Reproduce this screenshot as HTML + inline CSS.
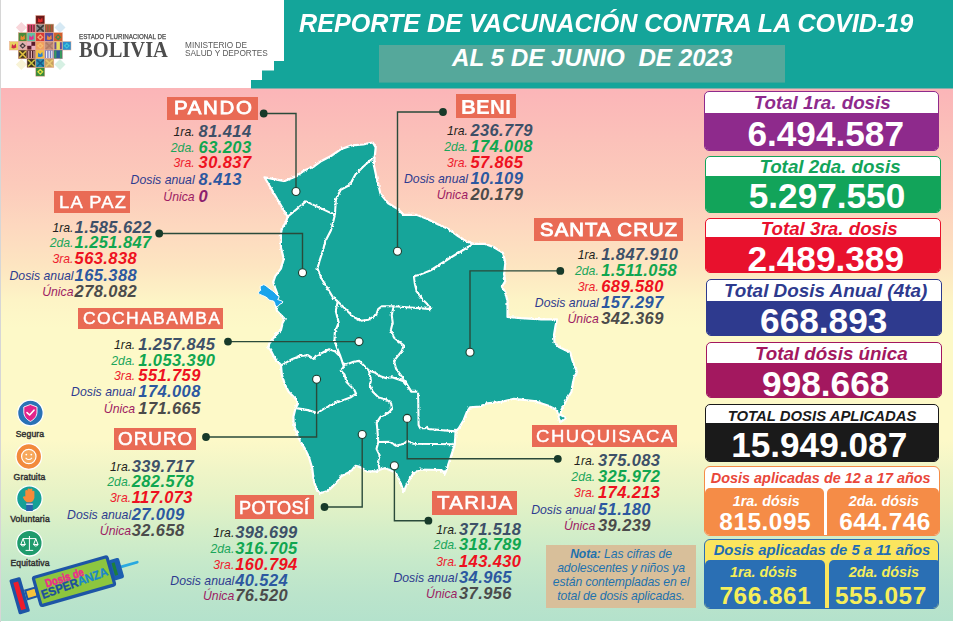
<!DOCTYPE html>
<html><head><meta charset="utf-8"><title>Reporte de vacunación COVID-19</title>
<style>
*{margin:0;padding:0;box-sizing:border-box}
html,body{width:953px;height:622px;overflow:hidden;background:#fff}
body{position:relative;font-family:"Liberation Sans",Arial,sans-serif}
#bg{position:absolute;left:1px;top:88px;width:952px;height:533px;
background:linear-gradient(180deg,#fbb5b8 0%,#fbc0b9 9%,#fccbbb 18.4%,#fdd8bf 26%,#fde5c1 33.4%,#fdf4c6 39.8%,#fdf9c8 45%,#fdf9c8 66%,#f0f5c7 71.7%,#e4f2c6 77.3%,#d4eec8 83%,#c6e9ca 89%,#bbe4cb 95%,#b4e2cc 100%)}
#lb{position:absolute;left:0;top:0;width:1px;height:622px;background:#d6d6d6}
.lbl{position:absolute;background:#e96b55}
.lt{position:absolute;color:#fff;line-height:1;white-space:nowrap;-webkit-text-stroke:0.4px #fff;transform-origin:0 0}
.row{position:absolute;width:420px;height:18px;white-space:nowrap;font-style:italic}
.lab{position:absolute;top:2px;font-size:12.25px;line-height:16px}
.val{position:absolute;left:199px;top:0;font-weight:bold;font-size:16.5px;line-height:18px;letter-spacing:0.4px}
.l1{color:#231f20}.l2{color:#1ba65b}.l3{color:#ee1c2e}.l4{color:#2e3b8f}.l5{color:#9d1c63}
.v1{color:#3d5068}.v2{color:#10a650}.v3{color:#ee1120}.v4{color:#2c58a0}.v5{color:#4b4b4b}
.sbox{position:absolute;border:1.5px solid;border-radius:5px;overflow:hidden;background:#fff}
.st{position:absolute;width:300px;text-align:center;font-weight:bold;font-style:italic;line-height:1;white-space:nowrap}
.sv{position:absolute;left:0;right:0;bottom:0}
.sn{position:absolute;width:300px;text-align:center;color:#fff;font-weight:bold;font-size:35.2px;line-height:1;white-space:nowrap}

.abox{position:absolute;border:1.5px solid;border-radius:6px;overflow:hidden}
.ax{position:absolute;width:300px;text-align:center;line-height:1;white-space:nowrap;font-weight:bold}
.it{font-style:italic}
.nb{letter-spacing:0.5px}
.nota{position:absolute;left:545.8px;top:544.7px;width:150.5px;height:63.3px;background:#d8bf9a;color:#1f72ad;font-style:italic;font-size:12.2px;line-height:13.9px;text-align:center;padding-top:3.6px;white-space:nowrap;letter-spacing:-0.1px}
.ic{position:absolute;border-radius:50%;border:1.5px solid #fff}
.il{position:absolute;font-size:8.6px;color:#333;white-space:nowrap;text-align:center;width:60px;letter-spacing:0.15px;-webkit-text-stroke:0.45px #333}
</style></head><body>
<div id="lb"></div>
<div id="bg"></div>
<svg style="position:absolute;left:0;top:0" width="953" height="90" viewBox="0 0 953 90">
<polygon points="284,0 953,0 953,88.5 251,88.5 251,80 262,80 262,70.5 274,70.5 274,61 284,61" fill="#14a59a"/>
<rect x="379" y="45" width="406" height="37.6" fill="#55a89b"/>
<rect x="17.5" y="23.5" width="7.8" height="7.8" fill="#f8d6da" transform="rotate(45 21.4 27.4)"/>
<rect x="56.1" y="23.5" width="7.8" height="7.8" fill="#d6e9f4" transform="rotate(45 60 27.4)"/>
<rect x="17.5" y="60.5" width="7.8" height="7.8" fill="#f8f3d6" transform="rotate(45 21.4 64.4)"/>
<rect x="56.1" y="60.5" width="7.8" height="7.8" fill="#d6f0e3" transform="rotate(45 60 64.4)"/>
<rect x="35.8" y="15.5" width="9.00" height="8.60" fill="#6a1a1a" stroke="#eaa890" stroke-width="0.5"/>
<path d="M37.80 22.10 L38.30 18.00 L40.30 19.80 L42.30 17.50 L42.80 21.60 L40.30 22.60Z" fill="#e42a2a"/>
<rect x="27" y="24.1" width="8.80" height="8.60" fill="#e0407a" stroke="#eaa890" stroke-width="0.5"/>
<rect x="28.20" y="24.90" width="1.2" height="7.00" fill="#6a3a2a"/>
<rect x="30.80" y="24.90" width="1.2" height="7.00" fill="#6a3a2a"/>
<rect x="33.40" y="24.90" width="1.2" height="7.00" fill="#6a3a2a"/>
<rect x="35.8" y="24.1" width="9.00" height="8.60" fill="#8a8a8a" stroke="#eaa890" stroke-width="0.5"/>
<path d="M36.80 25.10 L43.80 31.70 M43.80 25.10 L36.80 31.70" stroke="#3a3a3a" stroke-width="1.6"/>
<rect x="44.8" y="24.1" width="9.00" height="8.60" fill="#7a6a3a" stroke="#eaa890" stroke-width="0.5"/>
<rect x="46.00" y="24.90" width="1.2" height="7.00" fill="#c84a3a"/>
<rect x="48.60" y="24.90" width="1.2" height="7.00" fill="#c84a3a"/>
<rect x="51.20" y="24.90" width="1.2" height="7.00" fill="#c84a3a"/>
<rect x="18.3" y="32.7" width="8.70" height="8.90" fill="#4a8a3a" stroke="#eaa890" stroke-width="0.5"/>
<path d="M20.30 39.60 L20.80 35.20 L22.65 37.15 L24.50 34.70 L25.00 39.10 L22.65 40.10Z" fill="#f08a30"/>
<rect x="27" y="32.7" width="8.80" height="8.90" fill="#60c0a0" stroke="#eaa890" stroke-width="0.5"/>
<path d="M29.00 39.60 L29.50 35.20 L31.40 37.15 L33.30 34.70 L33.80 39.10 L31.40 40.10Z" fill="#e03090"/>
<rect x="35.8" y="32.7" width="9.00" height="8.90" fill="#d83a34" stroke="#eaa890" stroke-width="0.5"/>
<path d="M40.30 33.90 L43.60 37.15 L40.30 40.40 L37.00 37.15Z" fill="#f0a878"/>
<rect x="39.30" y="36.15" width="2" height="2" fill="#d83a34"/>
<rect x="44.8" y="32.7" width="9.00" height="8.90" fill="#5a4a9a" stroke="#eaa890" stroke-width="0.5"/>
<path d="M46.80 39.60 L47.30 35.20 L49.30 37.15 L51.30 34.70 L51.80 39.10 L49.30 40.10Z" fill="#e88a40"/>
<rect x="53.8" y="32.7" width="8.70" height="8.90" fill="#d0602e" stroke="#eaa890" stroke-width="0.5"/>
<path d="M58.15 33.90 L61.30 37.15 L58.15 40.40 L55.00 37.15Z" fill="#3a8a4a"/>
<rect x="57.15" y="36.15" width="2" height="2" fill="#d0602e"/>
<rect x="9.5" y="41.6" width="8.80" height="8.40" fill="#e8d060" stroke="#eaa890" stroke-width="0.5"/>
<path d="M11.50 48.00 L12.00 44.10 L13.90 45.80 L15.80 43.60 L16.30 47.50 L13.90 48.50Z" fill="#d02a48"/>
<rect x="18.3" y="41.6" width="8.70" height="8.40" fill="#e0b0b0" stroke="#eaa890" stroke-width="0.5"/>
<path d="M22.65 42.80 L25.80 45.80 L22.65 48.80 L19.50 45.80Z" fill="#403838"/>
<rect x="21.65" y="44.80" width="2" height="2" fill="#e0b0b0"/>
<rect x="27" y="41.6" width="8.80" height="8.40" fill="#5a1a2a" stroke="#eaa890" stroke-width="0.5"/>
<rect x="27.00" y="41.60" width="4.40" height="4.20" fill="#e8b0c0"/><rect x="31.40" y="45.80" width="4.40" height="4.20" fill="#e8b0c0"/>
<rect x="35.8" y="41.6" width="9.00" height="8.40" fill="#f0a060" stroke="#eaa890" stroke-width="0.5"/>
<path d="M40.30 42.80 L43.60 45.80 L40.30 48.80 L37.00 45.80Z" fill="#f6c070"/>
<rect x="39.30" y="44.80" width="2" height="2" fill="#f0a060"/>
<rect x="44.8" y="41.6" width="9.00" height="8.40" fill="#c09078" stroke="#eaa890" stroke-width="0.5"/>
<path d="M45.80 42.60 L52.80 49.00 M52.80 42.60 L45.80 49.00" stroke="#b07a68" stroke-width="1.6"/>
<rect x="53.8" y="41.6" width="8.70" height="8.40" fill="#e8e060" stroke="#eaa890" stroke-width="0.5"/>
<rect x="54.40" y="42.20" width="2" height="7.20" fill="#6a4a9a"/>
<rect x="59.90" y="42.20" width="2" height="7.20" fill="#6a4a9a"/>
<rect x="62.5" y="41.6" width="8.50" height="8.40" fill="#2a90d0" stroke="#eaa890" stroke-width="0.5"/>
<path d="M66.75 42.80 L69.80 45.80 L66.75 48.80 L63.70 45.80Z" fill="#40c8d8"/>
<rect x="65.75" y="44.80" width="2" height="2" fill="#2a90d0"/>
<rect x="18.3" y="50" width="8.70" height="8.80" fill="#4a3a20" stroke="#eaa890" stroke-width="0.5"/>
<path d="M19.30 51.00 L26.00 57.80 M26.00 51.00 L19.30 57.80" stroke="#e0c040" stroke-width="1.6"/>
<rect x="27" y="50" width="8.80" height="8.80" fill="#4a2028" stroke="#eaa890" stroke-width="0.5"/>
<rect x="28.20" y="50.80" width="1.2" height="7.20" fill="#e0b0b0"/>
<rect x="30.80" y="50.80" width="1.2" height="7.20" fill="#e0b0b0"/>
<rect x="33.40" y="50.80" width="1.2" height="7.20" fill="#e0b0b0"/>
<rect x="35.8" y="50" width="9.00" height="8.80" fill="#f0c040" stroke="#eaa890" stroke-width="0.5"/>
<path d="M37.80 56.80 L38.30 52.50 L40.30 54.40 L42.30 52.00 L42.80 56.30 L40.30 57.30Z" fill="#2a80d0"/>
<rect x="44.8" y="50" width="9.00" height="8.80" fill="#7a80c0" stroke="#eaa890" stroke-width="0.5"/>
<rect x="46.00" y="50.80" width="1.2" height="7.20" fill="#f0f0f0"/>
<rect x="48.60" y="50.80" width="1.2" height="7.20" fill="#f0f0f0"/>
<rect x="51.20" y="50.80" width="1.2" height="7.20" fill="#f0f0f0"/>
<rect x="53.8" y="50" width="8.70" height="8.80" fill="#2a5a9a" stroke="#eaa890" stroke-width="0.5"/>
<rect x="54.40" y="50.60" width="2" height="7.60" fill="#3a9a5a"/>
<rect x="59.90" y="50.60" width="2" height="7.60" fill="#3a9a5a"/>
<rect x="27" y="58.8" width="8.80" height="8.70" fill="#3a3020" stroke="#eaa890" stroke-width="0.5"/>
<path d="M28.00 59.80 L34.80 66.50 M34.80 59.80 L28.00 66.50" stroke="#c8c040" stroke-width="1.6"/>
<rect x="35.8" y="58.8" width="9.00" height="8.70" fill="#2a90b0" stroke="#eaa890" stroke-width="0.5"/>
<path d="M36.80 59.80 L43.80 66.50 M43.80 59.80 L36.80 66.50" stroke="#1a5a8a" stroke-width="1.6"/>
<rect x="44.8" y="58.8" width="9.00" height="8.70" fill="#c8a060" stroke="#eaa890" stroke-width="0.5"/>
<path d="M45.80 59.80 L52.80 66.50 M52.80 59.80 L45.80 66.50" stroke="#e8c870" stroke-width="1.6"/>
<rect x="35.8" y="67.5" width="9.00" height="8.70" fill="#3a8a3a" stroke="#eaa890" stroke-width="0.5"/>
<path d="M40.30 68.70 L43.60 71.85 L40.30 75.00 L37.00 71.85Z" fill="#e0e040"/>
<rect x="39.30" y="70.85" width="2" height="2" fill="#3a8a3a"/>
</svg>
<div style="position:absolute;left:78.8px;top:34.3px;font-size:6.7px;line-height:1;color:#4a4a4a;white-space:nowrap;-webkit-text-stroke:0.25px #4a4a4a;transform:scaleX(0.93);transform-origin:0 0">ESTADO PLURINACIONAL DE</div>
<div style="position:absolute;left:78.5px;top:38.8px;font-family:'Liberation Serif',serif;font-weight:bold;font-size:22.8px;line-height:1;color:#4d4d4d;white-space:nowrap;transform:scaleX(0.9);transform-origin:0 0">BOLIVIA</div>
<div style="position:absolute;left:184.5px;top:40.7px;font-size:9.2px;line-height:8.8px;color:#5a5a5a;white-space:nowrap;transform:scaleX(0.9);transform-origin:0 0">MINISTERIO DE<br>SALUD Y DEPORTES</div>
<div style="position:absolute;left:299px;top:8.4px;font-size:26px;font-weight:bold;font-style:italic;color:#fff;white-space:nowrap;transform:scaleX(0.9665);transform-origin:0 0">REPORTE DE VACUNACIÓN CONTRA LA COVID-19</div>
<div style="position:absolute;left:452px;top:43.5px;font-size:24.2px;font-weight:bold;font-style:italic;color:#fff;white-space:pre">AL 5 DE JUNIO  DE 2023</div>

<svg style="position:absolute;left:0;top:0" width="953" height="622" viewBox="0 0 953 622">
<defs><filter id="rough" x="-5%" y="-5%" width="110%" height="110%"><feTurbulence type="fractalNoise" baseFrequency="0.35" numOctaves="2" seed="3"/><feDisplacementMap in="SourceGraphic" scale="2.8" xChannelSelector="R" yChannelSelector="G"/></filter></defs>
<g filter="url(#rough)">
<polygon points="264.5,177.3 284.7,181.1 296.3,176.3 304,170.5 313.7,166.7 321.4,160.9 331,156 340.7,149.3 351.6,145.4 363.2,144.5 372.8,142.5 375.7,147.4 374.7,157 373.8,164.7 376.7,178.2 380.5,193.7 388.2,203.3 397.9,209.1 403.7,214.9 417.2,214.9 426.8,218.8 438.4,224.5 449,229.3 458,236 467,241.6 473.8,243.9 485,243.9 494,247.3 503,252.9 505.3,263 504.1,274.3 505.3,281 501.9,286.7 505.3,292.3 507.5,301.3 507.5,317 521,318.2 541.3,319.3 557,319.3 555.5,326 554,335 554.5,342.5 559,347 570.3,352.6 572.5,360.5 577,371.8 573.7,378.5 571.4,392 565.8,401 561.3,410 560.2,414.5 565.8,417.9 560.2,422.4 556.8,410 547.8,405.5 534.3,401 514,398.8 500.5,402 487,403.3 480,406.5 470,407.3 466.8,412.2 463.6,420.2 458.8,428.2 455.6,431.4 454.8,444.3 452.3,452.3 449.1,462 445.9,471.6 444.3,474.9 443.5,471.6 441.1,470 420.2,469.5 413.4,473.1 408.6,481.1 405.4,487.5 403.8,492.3 402.2,487.5 399,479.5 395.8,473.1 389.3,469.8 384.5,468.2 379.7,469.8 376.5,471.4 366.8,471.4 362,468.2 358.8,466.6 355.6,465.8 352.3,469.8 347.5,473.1 341.1,476.3 337.9,481.1 333.1,485.9 328.2,490.7 320.2,493.2 317,490.7 313.8,481.1 312.2,468.2 308.9,457 304.5,448 302,444 298.5,438 296,431 293.7,424 293.4,416.8 295.3,409.1 298.2,403.3 296.3,399.5 288.6,391.7 284.7,384 281.8,374.4 280.9,364.7 275.1,358.9 271.2,351.2 268.3,347.4 269.3,343.5 275.1,335.8 280.9,330.3 282.8,322.6 284.7,318.8 277,311 275.1,303.3 278,295.6 275.1,287.9 273.2,282.1 275.1,276.3 280.9,268.6 283.8,258.9 280.9,247.4 280.9,234.2 281.8,228.4 285.7,222.6 287.6,216.8" fill="#15a59a" stroke="#fff" stroke-width="2.2" stroke-linejoin="round"/>
<polyline points="373.8,157 363.2,166.7 355.4,174.4 350.3,184 347.7,186 340.7,189.8 335.9,199.5 334.9,214.9" fill="none" stroke="#fff" stroke-width="2.1" stroke-linejoin="round"/><polyline points="287.6,216.8 306,201.4 334.9,214.9" fill="none" stroke="#fff" stroke-width="2.1" stroke-linejoin="round"/><polyline points="334.9,214.9 331,230.3 325.2,241.6 323.3,249.3 319.5,260.9 317.5,268.6 321.4,278.2 327.2,287.9 333,297.5 337.7,301.4" fill="none" stroke="#fff" stroke-width="2.1" stroke-linejoin="round"/><polyline points="337.7,301.4 345.4,309.1 353.2,316.8 360.9,320.7 368.6,319.7 376.3,314.9 378.2,309.1 382.1,306.2 393.7,306.2 407.2,307.2 431.3,309.1" fill="none" stroke="#fff" stroke-width="2.1" stroke-linejoin="round"/><polyline points="431.3,309.1 426.5,303.3 422.6,299.5 416.8,291.7 414.9,284 413.9,276.3 420.7,274.4 430.3,270.5 450,258 471.5,245" fill="none" stroke="#fff" stroke-width="2.1" stroke-linejoin="round"/><polyline points="337.7,301.4 335.8,311 338.7,322.6 334.8,332.3 334.5,340 336.8,347.4 340.7,357" fill="none" stroke="#fff" stroke-width="2.1" stroke-linejoin="round"/><polyline points="280.9,365.7 292.4,358.9 300.2,356 307.9,355.1 313.7,358.9 315.6,356 321.4,353.2 329.1,349.3 334.9,351.2 340.7,357" fill="none" stroke="#fff" stroke-width="2.1" stroke-linejoin="round"/><polyline points="340.7,357 342.6,362.8 345.8,364.7 353.5,361.8 359.3,360.9 365.1,366.7 368.9,370.5 374.7,372.4 380.5,376.3 386.3,378.2 392.1,377.3 397.9,379.2 405.6,382.1 411.4,391.7 418.1,391.7" fill="none" stroke="#fff" stroke-width="2.1" stroke-linejoin="round"/><polyline points="393.7,306.2 391.7,314.9 392.7,322.6 390.8,330.3 394,337.7 403.7,345.4 401.7,351.2 394,360.9 396,368.6 401.7,376.3 405.6,384 411.4,391.7" fill="none" stroke="#fff" stroke-width="2.1" stroke-linejoin="round"/><polyline points="418.1,391.7 418.6,425 420.2,428.2 425,428.2 426.6,426.6 428.2,429 455.6,431.4" fill="none" stroke="#fff" stroke-width="2.1" stroke-linejoin="round"/><polyline points="342.6,362.8 343.9,366.7 340.7,370.5 344.5,374.4 346.5,382.1 354.2,389.8 356.1,393.7 350.3,397.5 334.9,403.3 323.3,409.1 317.5,413 307.9,410.1 296.3,408.1" fill="none" stroke="#fff" stroke-width="2.1" stroke-linejoin="round"/><polyline points="368.9,370.5 370.9,380.2 369.9,386 372.8,391.7 378.6,397.5 386.3,399.5 391.1,403.3 392.1,409.1 388.2,413 380.5,416.8 376.7,422.6 377.6,432.3 378.3,442 376.5,448.9 379.7,455.4 378.1,461.8 379.7,469.8" fill="none" stroke="#fff" stroke-width="2.1" stroke-linejoin="round"/><polyline points="378.3,442 390.2,441.9 396,445.8 403.7,443.8 407.5,440.9 413.3,443.8 454.8,444.3" fill="none" stroke="#fff" stroke-width="2.1" stroke-linejoin="round"/>
</g>
<polygon points="260.2,286.2 263.8,284.6 265.9,285.7 269,288.2 272.6,290.8 275.1,292.9 276.7,294.9 279.2,296.5 278.7,298 277.7,299.5 280.8,300.6 282.8,301.6 282.3,303.1 279.8,304.2 278.2,306.2 276.2,306.7 275.1,304.7 274.6,302.6 273.6,301.1 271.5,300.6 269,300.1 267.9,298.5 265.9,297 262.3,295.4 259.7,294.4 258.2,292.9 259.2,291.3 260.7,290.3 260.2,288.2" fill="#19a4ec" stroke="#fff" stroke-width="1" stroke-linejoin="round"/>
<polyline points="263.7,113.5 296,113.5 296,191.5" fill="none" stroke="#2a4a3a" stroke-width="1.4"/><polyline points="159.2,233.5 302.5,233.5 302.5,272.8" fill="none" stroke="#2a4a3a" stroke-width="1.4"/><polyline points="443,112 397.5,112 397.5,251.2" fill="none" stroke="#2a4a3a" stroke-width="1.4"/><polyline points="560.3,270.9 470,270.9 470,352.2" fill="none" stroke="#2a4a3a" stroke-width="1.4"/><polyline points="228,341.6 359,341.6" fill="none" stroke="#2a4a3a" stroke-width="1.4"/><polyline points="206,437 316.6,437 316.6,379.2" fill="none" stroke="#2a4a3a" stroke-width="1.4"/><polyline points="324.5,507 362.2,507 362.2,434.5" fill="none" stroke="#2a4a3a" stroke-width="1.4"/><polyline points="557.8,458.8 407.2,458.8 407.2,418.4" fill="none" stroke="#2a4a3a" stroke-width="1.4"/><polyline points="428.4,520.7 394.4,520.7 394.4,465.7" fill="none" stroke="#2a4a3a" stroke-width="1.4"/>
<circle cx="263.7" cy="113.5" r="3.9" fill="#173a2a"/><circle cx="159.2" cy="233.5" r="3.9" fill="#173a2a"/><circle cx="443" cy="112" r="3.9" fill="#173a2a"/><circle cx="560.3" cy="270.9" r="3.9" fill="#173a2a"/><circle cx="228" cy="341.6" r="3.9" fill="#173a2a"/><circle cx="206" cy="437" r="3.9" fill="#173a2a"/><circle cx="324.5" cy="507" r="3.9" fill="#173a2a"/><circle cx="557.8" cy="458.8" r="3.9" fill="#173a2a"/><circle cx="428.4" cy="520.7" r="3.9" fill="#173a2a"/>
<circle cx="296" cy="191.5" r="4" fill="#fff" stroke="#1c3c2e" stroke-width="1.1"/><circle cx="302.5" cy="272.8" r="4" fill="#fff" stroke="#1c3c2e" stroke-width="1.1"/><circle cx="397.5" cy="251.2" r="4" fill="#fff" stroke="#1c3c2e" stroke-width="1.1"/><circle cx="470" cy="352.2" r="4" fill="#fff" stroke="#1c3c2e" stroke-width="1.1"/><circle cx="359" cy="341.6" r="4" fill="#fff" stroke="#1c3c2e" stroke-width="1.1"/><circle cx="316.6" cy="379.2" r="4" fill="#fff" stroke="#1c3c2e" stroke-width="1.1"/><circle cx="362.2" cy="434.5" r="4" fill="#fff" stroke="#1c3c2e" stroke-width="1.1"/><circle cx="407.2" cy="418.4" r="4" fill="#fff" stroke="#1c3c2e" stroke-width="1.1"/><circle cx="394.4" cy="465.7" r="4" fill="#fff" stroke="#1c3c2e" stroke-width="1.1"/>
</svg>
<div class="lbl" style="left:166.9px;top:96.9px;width:91.1px;height:22.8px"></div>
<div class="lt" style="left:173.64px;top:99.48px;font-size:18.58px;letter-spacing:1.51px;-webkit-text-stroke:0.8px #fff;transform:scaleX(1.102)">PANDO</div>
<div class="row" style="top:121.7px;left:-0.4px"><span class="lab l1" style="right:225.0px">1ra.</span><span class="val v1">81.414</span></div>
<div class="row" style="top:137.5px;left:-0.4px"><span class="lab l2" style="right:225.0px">2da.</span><span class="val v2">63.203</span></div>
<div class="row" style="top:153.3px;left:-0.4px"><span class="lab l3" style="right:225.0px">3ra.</span><span class="val v3">30.837</span></div>
<div class="row" style="top:169.9px;left:-0.4px"><span class="lab l4" style="right:225.0px">Dosis anual</span><span class="val v4">8.413</span></div>
<div class="row" style="top:186.7px;left:-0.4px"><span class="lab l5" style="right:225.0px">Única</span><span class="val v5" style="color:#8b1f6e">0</span></div><div class="lbl" style="left:53.6px;top:191.3px;width:76.1px;height:21.4px"></div>
<div class="lt" style="left:58.72px;top:193.85px;font-size:16.48px;letter-spacing:1.11px;-webkit-text-stroke:0.4px #fff;transform:scaleX(1.112)">LA PAZ</div>
<div class="row" style="top:218.1px;left:-124.4px"><span class="lab l1" style="right:222.1px">1ra.</span><span class="val v1">1.585.622</span></div>
<div class="row" style="top:233.4px;left:-124.4px"><span class="lab l2" style="right:222.1px">2da.</span><span class="val v2">1.251.847</span></div>
<div class="row" style="top:249.4px;left:-124.4px"><span class="lab l3" style="right:222.1px">3ra.</span><span class="val v3">563.838</span></div>
<div class="row" style="top:265.6px;left:-124.4px"><span class="lab l4" style="right:222.1px">Dosis anual</span><span class="val v4">165.388</span></div>
<div class="row" style="top:281.5px;left:-124.4px"><span class="lab l5" style="right:222.1px">Única</span><span class="val v5">278.082</span></div><div class="lbl" style="left:78px;top:308.3px;width:145.4px;height:20.7px"></div>
<div class="lt" style="left:82.52px;top:311.14px;font-size:15.78px;letter-spacing:1.24px;-webkit-text-stroke:0.4px #fff;transform:scaleX(1.110)">COCHABAMBA</div>
<div class="row" style="top:334.8px;left:-60.7px"><span class="lab l1" style="right:224.2px">1ra.</span><span class="val v1">1.257.845</span></div>
<div class="row" style="top:350.7px;left:-60.7px"><span class="lab l2" style="right:224.2px">2da.</span><span class="val v2">1.053.390</span></div>
<div class="row" style="top:366.3px;left:-60.7px"><span class="lab l3" style="right:224.2px">3ra.</span><span class="val v3">551.759</span></div>
<div class="row" style="top:382.4px;left:-60.7px"><span class="lab l4" style="right:224.2px">Dosis anual</span><span class="val v4">174.008</span></div>
<div class="row" style="top:398.7px;left:-60.7px"><span class="lab l5" style="right:224.2px">Única</span><span class="val v5">171.665</span></div><div class="lbl" style="left:114px;top:428.3px;width:81.9px;height:22px"></div>
<div class="lt" style="left:117.69px;top:430.64px;font-size:17.67px;letter-spacing:1.00px;-webkit-text-stroke:0.55px #fff;transform:scaleX(1.064)">ORURO</div>
<div class="row" style="top:456.5px;left:-67.3px"><span class="lab l1" style="right:221.6px">1ra.</span><span class="val v1">339.717</span></div>
<div class="row" style="top:472.2px;left:-67.3px"><span class="lab l2" style="right:221.6px">2da.</span><span class="val v2">282.578</span></div>
<div class="row" style="top:488.3px;left:-67.3px"><span class="lab l3" style="right:221.6px">3ra.</span><span class="val v3">117.073</span></div>
<div class="row" style="top:504.5px;left:-67.3px"><span class="lab l4" style="right:221.6px">Dosis anual</span><span class="val v4">27.009</span></div>
<div class="row" style="top:520.5px;left:-67.3px"><span class="lab l5" style="right:221.6px">Única</span><span class="val v5">32.658</span></div><div class="lbl" style="left:234.9px;top:495.2px;width:78.7px;height:23.6px"></div>
<div class="lt" style="left:238.98px;top:499.74px;font-size:17.67px;letter-spacing:0.35px;-webkit-text-stroke:0.55px #fff;transform:scaleX(1.027)">POTOSÍ</div>
<div class="row" style="top:522.6px;left:36.2px"><span class="lab l1" style="right:221.9px">1ra.</span><span class="val v1">398.699</span></div>
<div class="row" style="top:538.7px;left:36.2px"><span class="lab l2" style="right:221.9px">2da.</span><span class="val v2">316.705</span></div>
<div class="row" style="top:554.5px;left:36.2px"><span class="lab l3" style="right:221.9px">3ra.</span><span class="val v3">160.794</span></div>
<div class="row" style="top:570.7px;left:36.2px"><span class="lab l4" style="right:221.9px">Dosis anual</span><span class="val v4">40.524</span></div>
<div class="row" style="top:586.3px;left:36.2px"><span class="lab l5" style="right:221.9px">Única</span><span class="val v5">76.520</span></div><div class="lbl" style="left:456px;top:94.4px;width:59.8px;height:23.5px"></div>
<div class="lt" style="left:461.00px;top:96.76px;font-size:20.25px;font-weight:bold;letter-spacing:0.26px;-webkit-text-stroke:0.2px #fff;transform:scaleX(1.016)">BENI</div>
<div class="row" style="top:121.3px;left:271.4px"><span class="lab l1" style="right:223.4px">1ra.</span><span class="val v1">236.779</span></div>
<div class="row" style="top:137px;left:271.4px"><span class="lab l2" style="right:223.4px">2da.</span><span class="val v2">174.008</span></div>
<div class="row" style="top:152.8px;left:271.4px"><span class="lab l3" style="right:223.4px">3ra.</span><span class="val v3">57.865</span></div>
<div class="row" style="top:169.1px;left:271.4px"><span class="lab l4" style="right:223.4px">Dosis anual</span><span class="val v4">10.109</span></div>
<div class="row" style="top:185.3px;left:271.4px"><span class="lab l5" style="right:223.4px">Única</span><span class="val v5">20.179</span></div><div class="lbl" style="left:534.2px;top:218.2px;width:148.6px;height:22.7px"></div>
<div class="lt" style="left:540.19px;top:220.86px;font-size:18.72px;letter-spacing:1.03px;-webkit-text-stroke:0.9px #fff;transform:scaleX(1.085)">SANTA CRUZ</div>
<div class="row" style="top:244.7px;left:402.3px"><span class="lab l1" style="right:223.5px">1ra.</span><span class="val v1">1.847.910</span></div>
<div class="row" style="top:260.8px;left:402.3px"><span class="lab l2" style="right:223.5px">2da.</span><span class="val v2">1.511.058</span></div>
<div class="row" style="top:276.8px;left:402.3px"><span class="lab l3" style="right:223.5px">3ra.</span><span class="val v3">689.580</span></div>
<div class="row" style="top:293.1px;left:402.3px"><span class="lab l4" style="right:223.5px">Dosis anual</span><span class="val v4">157.297</span></div>
<div class="row" style="top:309px;left:402.3px"><span class="lab l5" style="right:223.5px">Única</span><span class="val v5">342.369</span></div><div class="lbl" style="left:531.9px;top:424.6px;width:145px;height:22.2px"></div>
<div class="lt" style="left:535.72px;top:427.65px;font-size:16.48px;letter-spacing:1.36px;-webkit-text-stroke:0.4px #fff;transform:scaleX(1.125)">CHUQUISACA</div>
<div class="row" style="top:451.1px;left:399px"><span class="lab l1" style="right:223.8px">1ra.</span><span class="val v1">375.083</span></div>
<div class="row" style="top:467.3px;left:399px"><span class="lab l2" style="right:223.8px">2da.</span><span class="val v2">325.972</span></div>
<div class="row" style="top:483.4px;left:399px"><span class="lab l3" style="right:223.8px">3ra.</span><span class="val v3">174.213</span></div>
<div class="row" style="top:499.7px;left:399px"><span class="lab l4" style="right:223.8px">Dosis anual</span><span class="val v4">51.180</span></div>
<div class="row" style="top:515.9px;left:399px"><span class="lab l5" style="right:223.8px">Única</span><span class="val v5">39.239</span></div><div class="lbl" style="left:432px;top:491.1px;width:85.3px;height:23.5px"></div>
<div class="lt" style="left:437.03px;top:494.06px;font-size:18.72px;letter-spacing:1.12px;-webkit-text-stroke:0.6px #fff;transform:scaleX(1.096)">TARIJA</div>
<div class="row" style="top:519.5px;left:260px"><span class="lab l1" style="right:222.6px">1ra.</span><span class="val v1">371.518</span></div>
<div class="row" style="top:535.4px;left:260px"><span class="lab l2" style="right:222.6px">2da.</span><span class="val v2">318.789</span></div>
<div class="row" style="top:551.5px;left:260px"><span class="lab l3" style="right:222.6px">3ra.</span><span class="val v3">143.430</span></div>
<div class="row" style="top:567.6px;left:260px"><span class="lab l4" style="right:222.6px">Dosis anual</span><span class="val v4">34.965</span></div>
<div class="row" style="top:583.8px;left:260px"><span class="lab l5" style="right:222.6px">Única</span><span class="val v5">37.956</span></div>
<div class="sbox" style="left:703.5px;top:91.3px;width:235.3px;height:60.2px;border-color:#8e2a8c"><div class="sv" style="background:#8e2a8c;top:20.7px"></div></div>
<div class="st" style="left:672.2px;top:93.89px;font-size:18.8px;color:#8e2a8c">Total 1ra. dosis</div>
<div class="sn" style="left:675.7px;top:115.50px">6.494.587</div>
<div class="sbox" style="left:705.1px;top:156.4px;width:235.8px;height:56.6px;border-color:#12a45a"><div class="sv" style="background:#12a45a;top:19.1px"></div></div>
<div class="st" style="left:680px;top:158.09px;font-size:18.8px;color:#12a45a">Total 2da. dosis</div>
<div class="sn" style="left:677px;top:178.00px">5.297.550</div>
<div class="sbox" style="left:705.1px;top:217.6px;width:235.8px;height:55.8px;border-color:#e8112d"><div class="sv" style="background:#e8112d;top:18.3px"></div></div>
<div class="st" style="left:679.2px;top:220.29px;font-size:18.8px;color:#e8112d">Total 3ra. dosis</div>
<div class="sn" style="left:675.7px;top:241.00px">2.489.389</div>
<div class="sbox" style="left:706.4px;top:278.9px;width:235.2px;height:57.3px;border-color:#2e3a8e"><div class="sv" style="background:#2e3a8e;top:20.8px"></div></div>
<div class="st" style="left:675.6px;top:281.50px;font-size:18.9px;color:#2e3a8e">Total Dosis Anual (4ta)</div>
<div class="sn" style="left:673.7px;top:303.00px">668.893</div>
<div class="sbox" style="left:706px;top:341.8px;width:235.5px;height:56.6px;border-color:#a3185f"><div class="sv" style="background:#a3185f;top:20.4px"></div></div>
<div class="st" style="left:681.3px;top:344.79px;font-size:18.8px;color:#a3185f">Total dósis única</div>
<div class="sn" style="left:675.7px;top:365.50px">998.668</div>
<div class="sbox" style="left:704.6px;top:404.4px;width:234.5px;height:57.9px;border-color:#1a1a1a"><div class="sv" style="background:#1a1a1a;top:17.8px"></div></div>
<div class="st" style="left:672.1px;top:409.39px;font-size:14.9px;color:#1a1a1a">TOTAL DOSIS APLICADAS</div>
<div class="sn" style="left:669.2px;top:426.80px">15.949.087</div>


<div class="abox" style="left:703.8px;top:466.2px;width:236px;height:69.5px;border-color:#f58c47;background:#fff">
<div style="position:absolute;left:0;top:20.9px;width:119.2px;height:50px;background:#f58c47;border-radius:5px 5px 0 0"></div>
<div style="position:absolute;left:122.4px;top:20.9px;width:112px;height:50px;background:#f58c47;border-radius:5px 5px 0 0"></div>
</div>
<div class="abox" style="left:703.8px;top:539.3px;width:235px;height:69.7px;border-color:#2a6db3;background:#fbe55e">
<div style="position:absolute;left:0;top:19.5px;width:120.2px;height:50px;background:#2a6fb4;border-radius:5px 5px 0 0"></div>
<div style="position:absolute;left:124px;top:19.5px;width:112px;height:50px;background:#2a6fb4;border-radius:5px 5px 0 0"></div>
</div>
<div class="ax it" style="left:670.7px;top:470.97px;font-size:14.45px;color:#e9473a;">Dosis aplicadas de 12 a 17 años</div>
<div class="ax it" style="left:616.3px;top:493.85px;font-size:14.35px;color:#fff;">1ra. dósis</div>
<div class="ax it" style="left:733.9px;top:493.85px;font-size:14.35px;color:#fff;">2da. dósis</div>
<div class="ax nb" style="left:615.2px;top:510.35px;font-size:24.4px;color:#fff;">815.095</div>
<div class="ax nb" style="left:735px;top:510.35px;font-size:24.4px;color:#fff;">644.746</div>
<div class="ax it" style="left:672px;top:542.83px;font-size:14.85px;color:#1f6db3;">Dosis aplicadas de 5 a 11 años</div>
<div class="ax it" style="left:613.5px;top:564.85px;font-size:14.35px;color:#f5ee5a;">1ra. dósis</div>
<div class="ax it" style="left:733.8px;top:564.65px;font-size:14.35px;color:#f5ee5a;">2da. dósis</div>
<div class="ax nb" style="left:615.4px;top:584.15px;font-size:24.4px;color:#f5ee5a;">766.861</div>
<div class="ax nb" style="left:730.9px;top:583.95px;font-size:24.4px;color:#f5ee5a;">555.057</div>
<div class="nota"><b>Nota:</b> Las cifras de<br>adolescentes y niños ya<br>están contempladas en el<br>total de dosis aplicadas.</div>

<svg style="position:absolute;left:0;top:395px" width="70" height="230" viewBox="0 395 70 230">
<circle cx="30.4" cy="413" r="12.8" fill="#2a72b6" stroke="#fff" stroke-width="1.3"/>
<path d="M30.4 404.5 L37 407 L37 412 C37 416.5 34 419.6 30.4 421.4 C26.8 419.6 23.8 416.5 23.8 412 L23.8 407 Z" fill="#e2248a" stroke="#fff" stroke-width="0.9"/>
<path d="M27 412.6 L29.6 415 L34 410.2" fill="none" stroke="#fff" stroke-width="1.6" stroke-linecap="round" stroke-linejoin="round"/>
<circle cx="28.8" cy="456.5" r="12.8" fill="#f28a3c" stroke="#fff" stroke-width="1.3"/>
<circle cx="28.8" cy="456.5" r="7.2" fill="#f7a85c" stroke="#fff" stroke-width="1.2"/>
<circle cx="26.3" cy="454.6" r="0.9" fill="#fff"/><circle cx="31.3" cy="454.6" r="0.9" fill="#fff"/>
<path d="M25.6 457.8 Q28.8 461.3 32 457.8" fill="none" stroke="#fff" stroke-width="1.1"/>
<circle cx="29.4" cy="498.6" r="12.8" fill="#16a096" stroke="#fff" stroke-width="1.3"/>
<path d="M25.3 496.5 L25.3 490.5 Q26.5 489.3 27.6 490.5 L27.6 489 Q28.8 487.8 30 489 L30 489.2 Q31.2 488 32.4 489.2 L32.4 491.2 Q33.5 490.3 34.4 491.2 L34.4 498 Q33.6 501.5 30.8 502.5 L27 502.5 Q24 500.5 22.8 497.2 Q23.8 495.8 25.3 496.5 Z" fill="#f58a3a"/>
<rect x="26.2" y="502.6" width="6.6" height="8.4" fill="#2a62ad"/>
<rect x="26.2" y="503.6" width="6.6" height="1.1" fill="#fff"/>
<circle cx="29.4" cy="543.2" r="12.8" fill="#1f9b6c" stroke="#fff" stroke-width="1.3"/>
<g fill="none" stroke="#fff" stroke-width="1">
<path d="M29.4 536 L29.4 550 M25.6 550.4 L33.2 550.4 M23 538.6 L35.8 538.6"/>
<path d="M23 538.6 L20.8 544.5 M23 538.6 L25.2 544.5 M35.8 538.6 L33.6 544.5 M35.8 538.6 L38 544.5"/>
<path d="M20.6 544.5 Q23 547.6 25.4 544.5 Z M33.4 544.5 Q35.8 547.6 38.2 544.5 Z"/>
</g>
</svg>
<div class="il" style="left:0px;top:428.5px">Segura</div>
<div class="il" style="left:-0.5px;top:472px">Gratuita</div>
<div class="il" style="left:0px;top:513.5px">Voluntaria</div>
<div class="il" style="left:0px;top:558px">Equitativa</div>


<svg style="position:absolute;left:0;top:545px" width="150" height="77" viewBox="0 545 150 77">
<g transform="translate(74 581.2) rotate(-16)">
<line x1="50" y1="-0.8" x2="66" y2="-0.8" stroke="#29a9e0" stroke-width="2.8" stroke-linecap="round"/>
<rect x="38.5" y="-10.5" width="11" height="21" rx="2" fill="#1d5fb0"/>
<rect x="41" y="-7" width="3.2" height="13" fill="#1e7f3a"/>
<rect x="-50.5" y="-5.5" width="12" height="11" fill="#1d55a6"/>
<rect x="-48.5" y="-3.5" width="8.5" height="7" fill="#f7c33c"/>
<rect x="-62" y="-19" width="11.5" height="36" rx="1.5" fill="#1d55a6"/>
<rect x="-58.8" y="-15.2" width="5" height="28.5" fill="#ee1c2c"/>
<rect x="-38.3" y="-14.6" width="76.6" height="29.2" rx="1.5" fill="#8dc63f" stroke="#1d55a6" stroke-width="3.2"/>
</g>
<g style="font-family:'Liberation Sans',sans-serif;font-weight:700">
<text transform="translate(46.5 587.5) rotate(-17.5)" font-size="11.5" fill="#ee2a8b" stroke="#ee2a8b" stroke-width="0.5" textLength="40" lengthAdjust="spacingAndGlyphs">Dosis de</text>
<text transform="translate(43 599) rotate(-20)" font-size="12.2" fill="#1d4f9e" stroke="#1d4f9e" stroke-width="0.3" textLength="70" lengthAdjust="spacingAndGlyphs">ESPER<tspan fill="#1b86cc" stroke="#1b86cc">ANZA</tspan></text>
</g>
</svg>

</body></html>
